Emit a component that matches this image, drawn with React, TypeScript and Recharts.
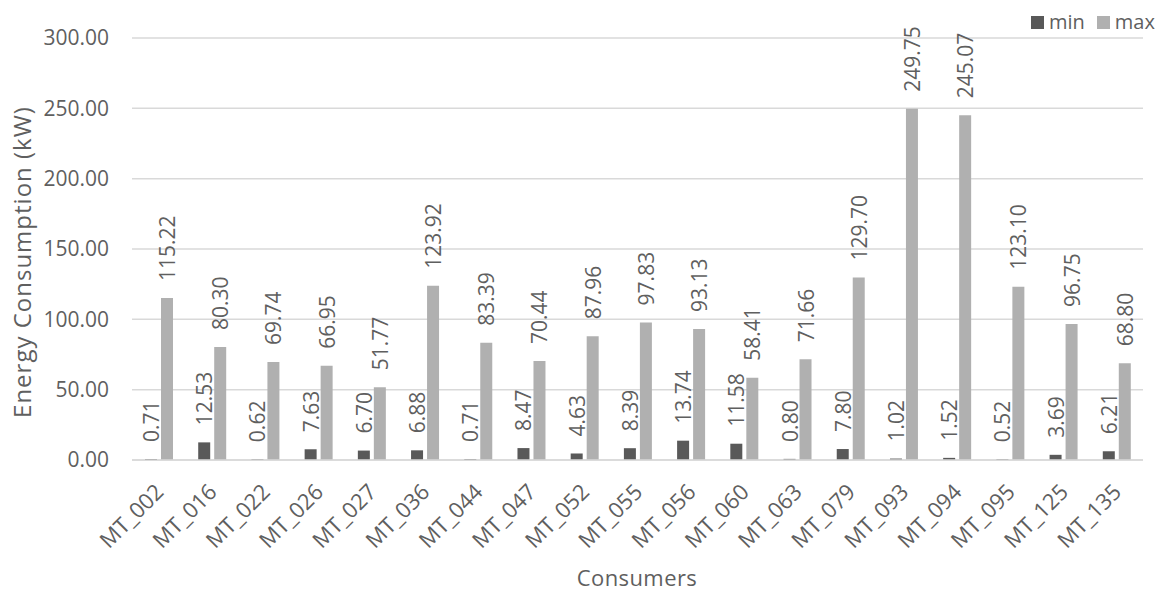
import { Bar, BarChart, CartesianGrid, LabelList, XAxis, YAxis } from 'recharts';

const consumers = [
  'MT_002', 'MT_016', 'MT_022', 'MT_026', 'MT_027', 'MT_036', 'MT_044',
  'MT_047', 'MT_052', 'MT_055', 'MT_056', 'MT_060', 'MT_063', 'MT_079',
  'MT_093', 'MT_094', 'MT_095', 'MT_125', 'MT_135',
];

const minValues = [
  0.71, 12.53, 0.62, 7.63, 6.7, 6.88, 0.71, 8.47, 4.63, 8.39, 13.74, 11.58,
  0.8, 7.8, 1.02, 1.52, 0.52, 3.69, 6.21,
];

const maxValues = [
  115.22, 80.3, 69.74, 66.95, 51.77, 123.92, 83.39, 70.44, 87.96, 97.83,
  93.13, 58.41, 71.66, 129.7, 249.75, 245.07, 123.1, 96.75, 68.8,
];

const yTicks = [0, 50, 100, 150, 200, 250, 300];

const MIN_COLOR = '#595959';
const MAX_COLOR = '#b0b0b0';
const TEXT_COLOR = '#5f5f5f';
const FONT = '"Open Sans", sans-serif';

const data = consumers.map((name, i) => ({
  name,
  min: minValues[i],
  max: maxValues[i],
}));

// value printed vertically just above each bar
const ValueLabel = (props: any) => {
  const { x, y, width, value } = props;
  const cx = x + width / 2;
  const cy = y - 17;
  return (
    <text
      x={cx}
      y={cy}
      transform={`rotate(-90, ${cx}, ${cy})`}
      textAnchor="start"
      dominantBaseline="central"
      fill={TEXT_COLOR}
      fontSize={21}
      fontFamily={FONT}
    >
      {Number(value).toFixed(2)}
    </text>
  );
};

const ConsumerTick = (props: any) => {
  const { x, y, payload } = props;
  const tx = x;
  const ty = y + 19;
  return (
    <text
      x={tx}
      y={ty}
      transform={`rotate(-45, ${tx}, ${ty})`}
      textAnchor="end"
      dominantBaseline="central"
      fill={TEXT_COLOR}
      fontSize={22}
      fontFamily={FONT}
    >
      {payload.value}
    </text>
  );
};

const YTitle = () => (
  <text
    x={21}
    y={262}
    transform="rotate(-90, 21, 262)"
    textAnchor="middle"
    dominantBaseline="central"
    fill={TEXT_COLOR}
    fontSize={24}
    letterSpacing={1}
    fontFamily={FONT}
  >
    Energy Consumption (kW)
  </text>
);

const XTitle = () => (
  <text
    x={637}
    y={577}
    textAnchor="middle"
    dominantBaseline="central"
    fill={TEXT_COLOR}
    fontSize={22}
    letterSpacing={0.4}
    fontFamily={FONT}
  >
    Consumers
  </text>
);

const LegendItem = ({ color, label }: { color: string; label: string }) => (
  <span style={{ display: 'inline-flex', alignItems: 'center', marginRight: 12 }}>
    <span
      style={{ width: 13, height: 13, background: color, display: 'inline-block', marginRight: 5 }}
    />
    <span>{label}</span>
  </span>
);

const App = () => {
  return (
    <div
      style={{
        position: 'absolute',
        left: 0,
        top: 0,
        width: 1168,
        height: 594,
        background: '#fff',
        fontFamily: FONT,
      }}
    >
      <BarChart
        width={1168}
        height={594}
        data={data}
        margin={{ top: 38, right: 25, bottom: 0, left: 0 }}
        barSize={12}
        barGap={4}
      >
        <CartesianGrid vertical={false} stroke="#d9d9d9" strokeWidth={1.5} />
        <XAxis
          dataKey="name"
          height={134}
          interval={0}
          tickLine={false}
          axisLine={{ stroke: '#d9d9d9', strokeWidth: 1.5 }}
          tick={<ConsumerTick />}
          label={<XTitle />}
        />
        <YAxis
          width={132}
          domain={[0, 300]}
          ticks={yTicks}
          tickFormatter={(v: number) => v.toFixed(2)}
          tickLine={false}
          axisLine={false}
          tickSize={0}
          tickMargin={23}
          tick={{ fill: TEXT_COLOR, fontSize: 21, fontFamily: FONT }}
          label={<YTitle />}
        />
        <Bar dataKey="min" fill={MIN_COLOR} isAnimationActive={false}>
          <LabelList dataKey="min" content={<ValueLabel />} />
        </Bar>
        <Bar dataKey="max" fill={MAX_COLOR} isAnimationActive={false}>
          <LabelList dataKey="max" content={<ValueLabel />} />
        </Bar>
      </BarChart>
      <div
        style={{
          position: 'absolute',
          left: 1031,
          top: 8,
          display: 'flex',
          fontSize: 20,
          color: TEXT_COLOR,
          lineHeight: '28px',
          whiteSpace: 'nowrap',
        }}
      >
        <LegendItem color={MIN_COLOR} label="min" />
        <LegendItem color={MAX_COLOR} label="max" />
      </div>
    </div>
  );
};

export default App;
